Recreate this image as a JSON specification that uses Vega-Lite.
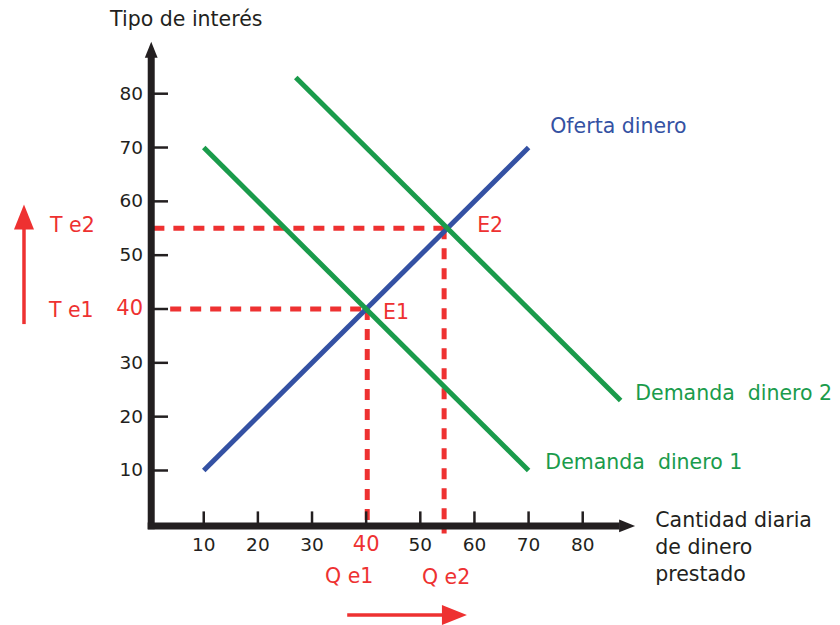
{
  "$schema": "https://vega.github.io/schema/vega-lite/v6.json",
  "width": 840,
  "height": 625,
  "autosize": {"type": "fit", "contains": "padding"},
  "padding": 0,
  "background": "white",
  "config": {"view": {"stroke": null}, "font": "DejaVu Sans", "text": {"font": "DejaVu Sans"}},
  "datasets": {
    "curvas": [
      {"serie": "Oferta dinero", "x": 10, "y": 10},
      {"serie": "Oferta dinero", "x": 70, "y": 70},
      {"serie": "Demanda dinero 1", "x": 10, "y": 70},
      {"serie": "Demanda dinero 1", "x": 70, "y": 10},
      {"serie": "Demanda dinero 2", "x": 27, "y": 83},
      {"serie": "Demanda dinero 2", "x": 87, "y": 23}
    ],
    "guias": [
      {"x": 0.7, "y": 55, "x2": 54.4, "y2": 55},
      {"x": 54.4, "y": 55, "x2": 54.4, "y2": -1.7},
      {"x": 3.8, "y": 40, "x2": 40.2, "y2": 40},
      {"x": 40.2, "y": 40, "x2": 40.2, "y2": 0.5}
    ],
    "ejes": [
      {"x": 0.3, "y": -0.9, "x2": 0.3, "y2": 86.9},
      {"x": -0.35, "y": -0.3, "x2": 86.8, "y2": -0.3}
    ],
    "flechas": [
      {"x": -23.2, "y": 37.2, "x2": -23.2, "y2": 55.5},
      {"x": 36.5, "y": -16.85, "x2": 54.5, "y2": -16.85}
    ],
    "puntas": [
      {"tipo": "eje", "dir": "arriba", "x": 0.3, "y": 88.15},
      {"tipo": "eje", "dir": "derecha", "x": 88.2, "y": -0.3},
      {"tipo": "flecha", "dir": "arriba", "x": -23.2, "y": 57.1},
      {"tipo": "flecha", "dir": "derecha", "x": 56.3, "y": -16.85}
    ],
    "marcas": [
      {"v": 10}, {"v": 20}, {"v": 30}, {"v": 40}, {"v": 50}, {"v": 60}, {"v": 70}, {"v": 80}
    ],
    "textos": [
      {"texto": "Tipo de interés", "grupo": "eje", "x": -7.3, "y": 93.7},
      {"texto": "Cantidad diaria", "grupo": "eje", "x": 93.4, "y": 0.56},
      {"texto": "de dinero", "grupo": "eje", "x": 93.4, "y": -4.44},
      {"texto": "prestado", "grupo": "eje", "x": 93.4, "y": -9.44},
      {"texto": "Oferta dinero", "grupo": "oferta", "x": 74.0, "y": 73.9},
      {"texto": "Demanda\u00a0\u00a0dinero 2", "grupo": "demanda", "x": 89.7, "y": 24.3},
      {"texto": "Demanda\u00a0\u00a0dinero 1", "grupo": "demanda", "x": 73.1, "y": 11.3},
      {"texto": "E1", "grupo": "equilibrio", "x": 43.1, "y": 39.3},
      {"texto": "E2", "grupo": "equilibrio", "x": 60.5, "y": 55.4},
      {"texto": "T e2", "grupo": "equilibrio", "x": -18.4, "y": 55.4},
      {"texto": "T e1", "grupo": "equilibrio", "x": -18.6, "y": 39.6},
      {"texto": "Q e1", "grupo": "equilibrio", "x": 32.4, "y": -9.8},
      {"texto": "Q e2", "grupo": "equilibrio", "x": 50.3, "y": -10.0}
    ]
  },
  "layer": [
    {
      "data": {"name": "guias"},
      "mark": {"type": "rule", "color": "#ee3131", "strokeWidth": 5, "strokeDash": [11, 9], "strokeCap": "butt"},
      "encoding": {
        "x": {"field": "x", "type": "quantitative", "scale": {"domain": [-27.632, 127.521], "nice": false, "zero": false}, "axis": null},
        "y": {"field": "y", "type": "quantitative", "scale": {"domain": [-18.333, 97.407], "nice": false, "zero": false}, "axis": null},
        "x2": {"field": "x2"},
        "y2": {"field": "y2"}
      }
    },
    {
      "data": {"name": "curvas"},
      "mark": {"type": "line", "strokeWidth": 5, "strokeCap": "butt"},
      "encoding": {
        "x": {"field": "x", "type": "quantitative", "scale": {"domain": [-27.632, 127.521], "nice": false, "zero": false}, "axis": null},
        "y": {"field": "y", "type": "quantitative", "scale": {"domain": [-18.333, 97.407], "nice": false, "zero": false}, "axis": null},
        "detail": {"field": "serie"},
        "color": {"field": "serie", "type": "nominal", "legend": null,
          "scale": {"domain": ["Oferta dinero", "Demanda dinero 1", "Demanda dinero 2"], "range": ["#3451a3", "#1a9b4b", "#1a9b4b"]}}
      }
    },
    {
      "data": {"name": "ejes"},
      "mark": {"type": "rule", "color": "#231f20", "strokeWidth": 7, "strokeCap": "butt"},
      "encoding": {
        "x": {"field": "x", "type": "quantitative", "scale": {"domain": [-27.632, 127.521], "nice": false, "zero": false}, "axis": null},
        "y": {"field": "y", "type": "quantitative", "scale": {"domain": [-18.333, 97.407], "nice": false, "zero": false}, "axis": null},
        "x2": {"field": "x2"},
        "y2": {"field": "y2"}
      }
    },
    {
      "data": {"name": "marcas"},
      "mark": {"type": "rule", "color": "#231f20", "strokeWidth": 2.5},
      "encoding": {
        "x": {"field": "v", "type": "quantitative", "scale": {"domain": [-27.632, 127.521], "nice": false, "zero": false}, "axis": null},
        "y": {"datum": -0.3, "type": "quantitative", "scale": {"domain": [-18.333, 97.407], "nice": false, "zero": false}, "axis": null},
        "y2": {"datum": 2.4}
      }
    },
    {
      "data": {"name": "marcas"},
      "mark": {"type": "rule", "color": "#231f20", "strokeWidth": 2.5},
      "encoding": {
        "y": {"field": "v", "type": "quantitative", "scale": {"domain": [-18.333, 97.407], "nice": false, "zero": false}, "axis": null},
        "x": {"datum": 0.3, "type": "quantitative", "scale": {"domain": [-27.632, 127.521], "nice": false, "zero": false}, "axis": null},
        "x2": {"datum": 3.4}
      }
    },
    {
      "data": {"name": "flechas"},
      "mark": {"type": "rule", "color": "#ee3131", "strokeWidth": 3.5},
      "encoding": {
        "x": {"field": "x", "type": "quantitative", "scale": {"domain": [-27.632, 127.521], "nice": false, "zero": false}, "axis": null},
        "y": {"field": "y", "type": "quantitative", "scale": {"domain": [-18.333, 97.407], "nice": false, "zero": false}, "axis": null},
        "x2": {"field": "x2"},
        "y2": {"field": "y2"}
      }
    },
    {
      "data": {"name": "puntas"},
      "mark": {"type": "point", "filled": true, "opacity": 1, "strokeWidth": 0},
      "encoding": {
        "x": {"field": "x", "type": "quantitative", "scale": {"domain": [-27.632, 127.521], "nice": false, "zero": false}, "axis": null},
        "y": {"field": "y", "type": "quantitative", "scale": {"domain": [-18.333, 97.407], "nice": false, "zero": false}, "axis": null},
        "shape": {"field": "dir", "type": "nominal", "legend": null,
          "scale": {"domain": ["arriba", "derecha"], "range": ["M0,-1L0.8,1L-0.8,1Z", "M1,0L-1,-0.8L-1,0.8Z"]}},
        "size": {"field": "tipo", "type": "nominal", "legend": null,
          "scale": {"domain": ["eje", "flecha"], "range": [256, 625]}},
        "color": {"field": "tipo", "type": "nominal", "legend": null,
          "scale": {"domain": ["eje", "flecha"], "range": ["#231f20", "#ee3131"]}}
      }
    },
    {
      "data": {"name": "marcas"},
      "mark": {"type": "text", "align": "center", "baseline": "middle"},
      "encoding": {
        "x": {"field": "v", "type": "quantitative", "scale": {"domain": [-27.632, 127.521], "nice": false, "zero": false}, "axis": null},
        "y": {"datum": -3.9, "type": "quantitative", "scale": {"domain": [-18.333, 97.407], "nice": false, "zero": false}, "axis": null},
        "text": {"field": "v", "type": "quantitative"},
        "color": {"condition": {"test": "datum.v === 40", "value": "#ee3131"}, "value": "#231f20"},
        "size": {"condition": {"test": "datum.v === 40", "value": 21}, "value": 18.5}
      }
    },
    {
      "data": {"name": "marcas"},
      "mark": {"type": "text", "align": "right", "baseline": "middle"},
      "encoding": {
        "y": {"field": "v", "type": "quantitative", "scale": {"domain": [-18.333, 97.407], "nice": false, "zero": false}, "axis": null},
        "x": {"datum": -1.2, "type": "quantitative", "scale": {"domain": [-27.632, 127.521], "nice": false, "zero": false}, "axis": null},
        "text": {"field": "v", "type": "quantitative"},
        "color": {"condition": {"test": "datum.v === 40", "value": "#ee3131"}, "value": "#231f20"},
        "size": {"condition": {"test": "datum.v === 40", "value": 21}, "value": 18.5}
      }
    },
    {
      "data": {"name": "textos"},
      "mark": {"type": "text", "align": "left", "baseline": "middle", "fontSize": 20.5},
      "encoding": {
        "x": {"field": "x", "type": "quantitative", "scale": {"domain": [-27.632, 127.521], "nice": false, "zero": false}, "axis": null},
        "y": {"field": "y", "type": "quantitative", "scale": {"domain": [-18.333, 97.407], "nice": false, "zero": false}, "axis": null},
        "text": {"field": "texto", "type": "nominal"},
        "color": {"field": "grupo", "type": "nominal", "legend": null,
          "scale": {"domain": ["eje", "oferta", "demanda", "equilibrio"], "range": ["#231f20", "#3451a3", "#1a9b4b", "#ee3131"]}}
      }
    }
  ],
  "resolve": {"scale": {"color": "independent", "size": "independent", "shape": "independent"}}
}
